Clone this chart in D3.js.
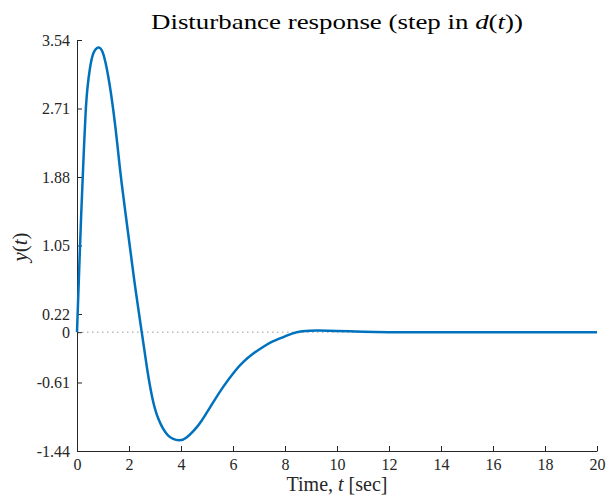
<!DOCTYPE html>
<html>
<head>
<meta charset="utf-8">
<script src="https://cdn.jsdelivr.net/npm/d3@7"></script>
<style>
  body { margin: 0; background: #fff; }
</style>
</head>
<body>
<svg id="chart" width="608" height="499"></svg>
<script>
// data
var tVals = [0, 0.05, 0.1, 0.15, 0.2, 0.27, 0.33, 0.4, 0.5, 0.63, 0.82, 1.0, 1.2, 1.4, 1.56, 1.72, 2.04, 2.25, 2.49, 2.7, 2.9, 3.13, 3.5, 3.93, 4.2, 4.5, 4.8, 5.2, 5.63, 6.08, 6.4, 6.78, 7.2, 7.55, 8.0, 8.45, 8.96, 9.3, 10, 11, 12, 14, 16, 18, 20];
var yVals = [0, 0.45, 0.9, 1.33, 1.72, 2.25, 2.65, 2.95, 3.2, 3.38, 3.45, 3.38, 3.10, 2.68, 2.25, 1.80, 1.02, 0.52, 0, -0.45, -0.80, -1.05, -1.25, -1.31, -1.28, -1.19, -1.07, -0.87, -0.66, -0.47, -0.36, -0.26, -0.17, -0.11, -0.05, 0, 0.018, 0.02, 0.015, 0.005, 0, 0, 0, 0, 0];
var xTicks = [0, 2, 4, 6, 8, 10, 12, 14, 16, 18, 20];
var yTicks = [-1.44, -0.61, 0, 0.22, 1.05, 1.88, 2.71, 3.54];

var serif = '"Liberation Serif", "Times New Roman", Times, serif';
var svg = d3.select("#chart");
var x = d3.scaleLinear().domain([0, 20]).range([77, 597]);
var y = d3.scaleLinear().domain([-1.44, 3.54]).range([451, 40]);

// dotted zero line
svg.append("line")
  .attr("x1", x(0)).attr("x2", x(20))
  .attr("y1", y(0)).attr("y2", y(0))
  .attr("stroke", "#9a9a9a").attr("stroke-width", 1)
  .attr("stroke-dasharray", "1.5,3.5");

// axes, ticks point inward
var xAxis = svg.append("g").attr("transform", "translate(0," + y(-1.44) + ")")
  .call(d3.axisBottom(x).tickValues(xTicks).tickSizeInner(-5).tickSizeOuter(0).tickPadding(8));
var yAxis = svg.append("g").attr("transform", "translate(" + x(0) + ",0)")
  .call(d3.axisLeft(y).tickValues(yTicks).tickSizeInner(-5).tickSizeOuter(0).tickPadding(7)
    .tickFormat(function(d){ return d === 0 ? "0" : d.toFixed(2); }));

[xAxis, yAxis].forEach(function(g){
  g.attr("font-family", null);
  g.select(".domain").attr("stroke", "#262626").attr("stroke-width", 1);
  g.selectAll(".tick line").attr("stroke", "#262626");
  g.selectAll(".tick text").style("font-family", serif).style("font-size", "16px").attr("fill", "#262626");
});

// response curve
var pts = tVals.map(function(t, i){ return [t, yVals[i]]; });
svg.append("path").datum(pts)
  .attr("fill", "none").attr("stroke", "#0072BD").attr("stroke-width", 2.5)
  .attr("stroke-linejoin", "round")
  .attr("d", d3.line().x(function(d){ return x(d[0]); }).y(function(d){ return y(d[1]); })
    .curve(d3.curveNatural));

// title
var title = svg.append("text").attr("x", 337).attr("y", 29)
  .attr("text-anchor", "middle").style("font-family", serif).style("font-size", "22px").attr("fill", "#000")
  .attr("textLength", 372).attr("lengthAdjust", "spacingAndGlyphs");
title.append("tspan").text("Disturbance response (step in ");
title.append("tspan").style("font-style", "italic").text("d");
title.append("tspan").text("(");
title.append("tspan").style("font-style", "italic").text("t");
title.append("tspan").text("))");

// x label
var xl = svg.append("text").attr("x", 337).attr("y", 491)
  .attr("text-anchor", "middle").style("font-family", serif).style("font-size", "20px").attr("fill", "#262626");
xl.append("tspan").text("Time, ");
xl.append("tspan").style("font-style", "italic").text("t");
xl.append("tspan").text(" [sec]");

// y label
var yl = svg.append("text").attr("transform", "translate(27,247) rotate(-90)")
  .attr("text-anchor", "middle").style("font-family", serif).style("font-size", "21px").attr("fill", "#262626");
yl.append("tspan").style("font-style", "italic").text("y");
yl.append("tspan").text("(");
yl.append("tspan").style("font-style", "italic").text("t");
yl.append("tspan").text(")");
</script>
</body>
</html>
